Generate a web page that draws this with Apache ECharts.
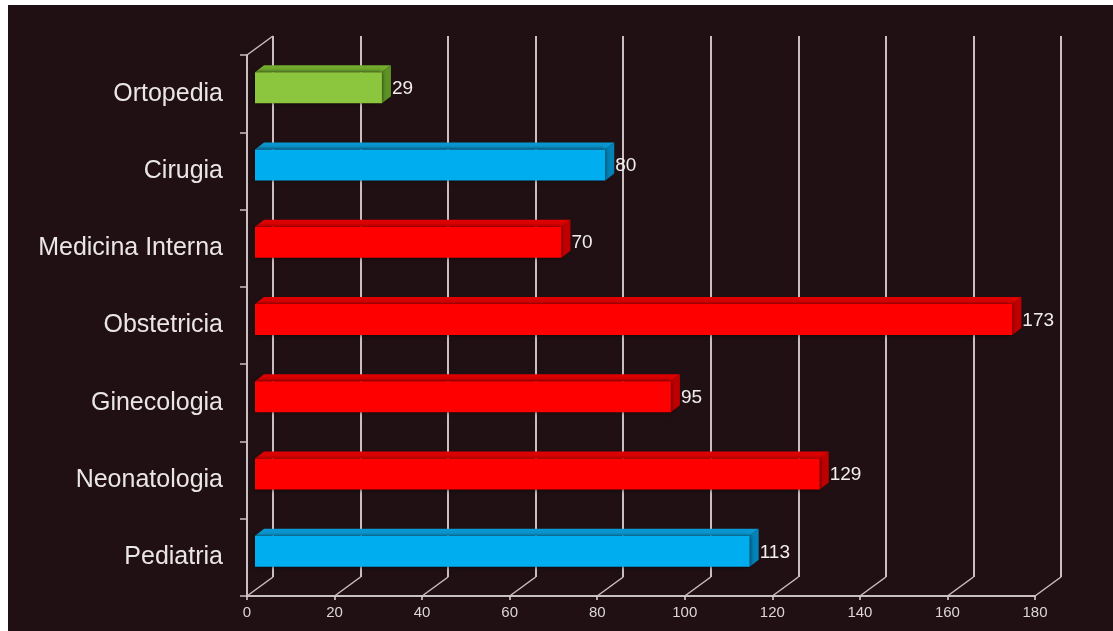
<!DOCTYPE html>
<html>
<head>
<meta charset="utf-8">
<script src="https://cdn.jsdelivr.net/npm/echarts@6/dist/echarts.min.js"></script>
<style>
  html, body { margin: 0; padding: 0; background: #201013; overflow: hidden; }
  #edgeTop { position: absolute; left: 0; top: 0; width: 100%; height: 5px; background: #ffffff; }
  #edgeLeft { position: absolute; left: 0; top: 0; width: 8px; height: 100%; background: #ffffff; }
  #chart { position: absolute; left: 8px; top: 5px; width: 1105px; height: 626px; }
</style>
</head>
<body>
<div id="edgeTop"></div>
<div id="edgeLeft"></div>
<div id="chart"></div>
<script>
// Departments, listed from the bottom row to the top row
const categories = ['Pediatria', 'Neonatologia', 'Ginecologia', 'Obstetricia', 'Medicina Interna', 'Cirugia', 'Ortopedia'];
const values = [113, 129, 95, 173, 70, 80, 29];
const xTicks = [0, 20, 40, 60, 80, 100, 120, 140, 160, 180];

// Face colours for each bar colour family: front, top, side
const PALETTE = {
  blue:  { front: '#00aeef', top: '#0a98d2', side: '#0383b8' },
  red:   { front: '#ff0000', top: '#de0000', side: '#c00000' },
  green: { front: '#8cc63f', top: '#72ac2e', side: '#5e9326' }
};
const BAR_COLOR = {
  'Pediatria': 'blue', 'Neonatologia': 'red', 'Ginecologia': 'red', 'Obstetricia': 'red',
  'Medicina Interna': 'red', 'Cirugia': 'blue', 'Ortopedia': 'green'
};

// Perspective offset of the back wall
const DEPTH_X = 26, DEPTH_Y = 19;
// Bar placement inside the depth
const BAR_SHIFT_X = 8, BAR_SHIFT_Y = 6;
const BAR_H = 31, BAR_TOP_X = 9, BAR_TOP_Y = 7;

const LINE = '#c9bfc0';
const FONT = 'Liberation Sans, Arial, sans-serif';
const FRONT = { left: 239, right: 78, top: 50, bottom: 35 };

const chart = echarts.init(document.getElementById('chart'));

function renderBar(params, api) {
  const idx = api.value(1);
  const v = api.value(0);
  const p0 = api.coord([0, idx]);
  const p1 = api.coord([v, idx]);
  const xa = p0[0] + BAR_SHIFT_X;
  const xb = p1[0] + BAR_SHIFT_X;
  const yc = p1[1] - BAR_SHIFT_Y;
  const top = yc - BAR_H / 2;
  const bottom = yc + BAR_H / 2;
  const pal = PALETTE[BAR_COLOR[categories[idx]]];
  return {
    type: 'group',
    children: [
      {
        type: 'polygon',
        shape: { points: [[xa, top], [xa + BAR_TOP_X, top - BAR_TOP_Y], [xb + BAR_TOP_X, top - BAR_TOP_Y], [xb, top]] },
        style: { fill: pal.top }
      },
      {
        type: 'polygon',
        shape: { points: [[xb, top], [xb + BAR_TOP_X, top - BAR_TOP_Y], [xb + BAR_TOP_X, bottom - BAR_TOP_Y], [xb, bottom]] },
        style: { fill: pal.side }
      },
      {
        type: 'rect',
        shape: { x: xa, y: top, width: xb - xa, height: BAR_H },
        style: { fill: pal.front, shadowBlur: 4, shadowColor: 'rgba(0,0,0,0.7)' }
      },
      {
        type: 'text',
        x: xb + BAR_TOP_X + 1,
        y: yc + 1,
        style: {
          text: String(v), fill: '#f2eeee', fontSize: 19, fontFamily: FONT,
          verticalAlign: 'middle', align: 'left'
        }
      }
    ]
  };
}

// Floor diagonals joining each front tick to its back gridline
function renderFloor(params, api) {
  const x = api.coord([api.value(0), 0])[0];
  const yb = params.coordSys.y + params.coordSys.height;
  return {
    type: 'line',
    shape: { x1: x, y1: yb, x2: x + DEPTH_X, y2: yb - DEPTH_Y },
    style: { stroke: LINE, lineWidth: 1.5 }
  };
}

// Top edge of the left wall
function renderWallTop(params, api) {
  const x = api.coord([api.value(0), 0])[0];
  const yt = params.coordSys.y;
  return {
    type: 'line',
    shape: { x1: x, y1: yt, x2: x + DEPTH_X, y2: yt - DEPTH_Y },
    style: { stroke: LINE, lineWidth: 1.5 }
  };
}

chart.setOption({
  backgroundColor: '#201013',
  animation: false,
  grid: [
    { left: FRONT.left, right: FRONT.right, top: FRONT.top, bottom: FRONT.bottom },
    { left: FRONT.left + DEPTH_X, right: FRONT.right - DEPTH_X, top: FRONT.top - DEPTH_Y, bottom: FRONT.bottom + DEPTH_Y }
  ],
  xAxis: [
    {
      gridIndex: 0, type: 'value', min: 0, max: 180, interval: 20,
      axisLine: { show: true, lineStyle: { color: LINE, width: 2 } },
      axisTick: { show: true, length: 4, lineStyle: { color: '#e0dada', width: 1.5 } },
      axisLabel: {
        color: '#ddd6d6', fontSize: 15, margin: 9, fontFamily: FONT,
        formatter: (val) => xTicks.includes(val) ? String(val) : ''
      },
      splitLine: { show: false }
    },
    {
      gridIndex: 1, type: 'value', min: 0, max: 180, interval: 20,
      axisLine: { show: false }, axisTick: { show: false }, axisLabel: { show: false },
      splitLine: { show: true, lineStyle: { color: LINE, width: 2 } }
    }
  ],
  yAxis: [
    {
      gridIndex: 0, type: 'category', data: categories, boundaryGap: true,
      axisLine: { show: true, lineStyle: { color: LINE, width: 2 } },
      axisTick: { show: true, length: 7, lineStyle: { color: LINE, width: 1.5 } },
      axisLabel: { color: '#ebe6e6', fontSize: 25, margin: 24, fontFamily: FONT },
      splitLine: { show: false }
    },
    {
      gridIndex: 1, type: 'category', data: categories, show: false,
      splitLine: { show: false }
    }
  ],
  series: [
    {
      type: 'custom', xAxisIndex: 0, yAxisIndex: 0, z: 1,
      data: xTicks.map(t => [t]),
      renderItem: renderFloor, silent: true
    },
    {
      type: 'custom', xAxisIndex: 0, yAxisIndex: 0, z: 1,
      data: [[xTicks[0]]],
      renderItem: renderWallTop, silent: true
    },
    {
      type: 'custom', xAxisIndex: 0, yAxisIndex: 0, z: 3,
      data: values.map((v, i) => [v, i]),
      renderItem: renderBar
    }
  ]
});
</script>
</body>
</html>
